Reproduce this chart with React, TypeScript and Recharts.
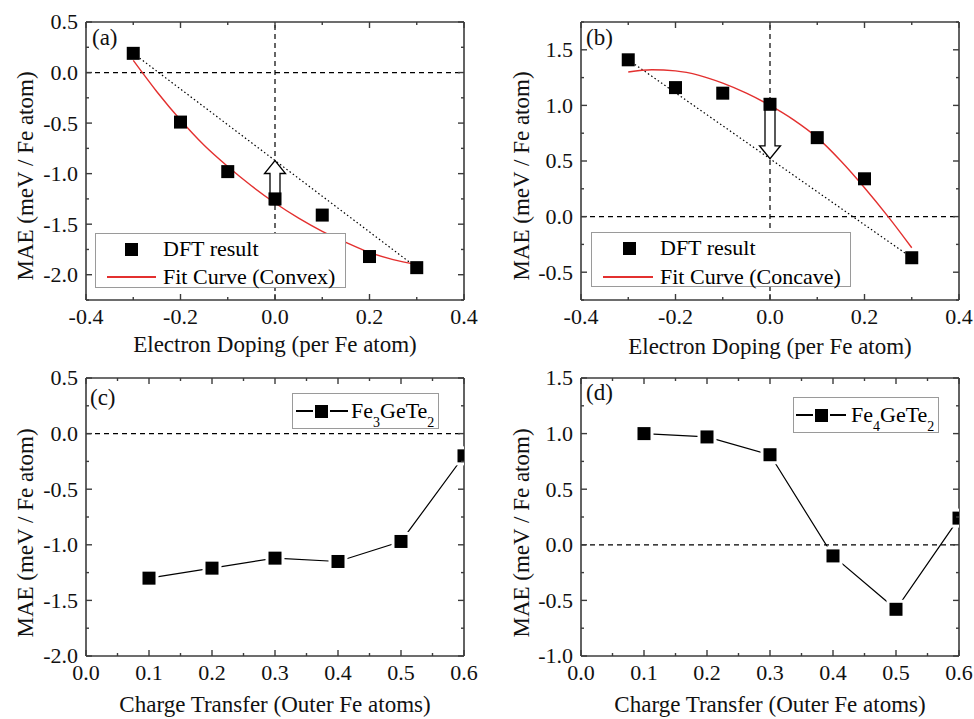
import React from 'react';
import { ComposedChart, Line, Scatter, XAxis, YAxis, ReferenceLine, Legend } from 'recharts';

// (a), (b) electron doping
const dopingX = [-0.3, -0.2, -0.1, 0, 0.1, 0.2, 0.3];
const dftA = [0.19, -0.49, -0.98, -1.25, -1.41, -1.82, -1.93];
const dftB = [1.41, 1.16, 1.11, 1.01, 0.71, 0.34, -0.37];
const fitX = [-0.3, -0.25, -0.2, -0.15, -0.1, -0.05, 0, 0.05, 0.1, 0.15, 0.2, 0.25, 0.3];
const fitA = [0.12, -0.19, -0.47, -0.72, -0.93, -1.12, -1.29, -1.44, -1.57, -1.68, -1.78, -1.85, -1.9];
const fitB = [1.3, 1.32, 1.31, 1.27, 1.2, 1.11, 1.0, 0.87, 0.71, 0.5, 0.26, 0.0, -0.28];
const arrowA = [-1.31, -0.87];
const arrowB = [1.01, 0.52];

// (c), (d) charge transfer
const transferX = [0.1, 0.2, 0.3, 0.4, 0.5, 0.6];
const fe3 = [-1.3, -1.21, -1.12, -1.15, -0.97, -0.2];
const fe4 = [1.0, 0.97, 0.81, -0.1, -0.58, 0.24];

// ticks (majors get labels)
const dopingTicks = [-0.4, -0.3, -0.2, -0.1, 0, 0.1, 0.2, 0.3, 0.4];
const transferTicks = [0, 0.05, 0.1, 0.15, 0.2, 0.25, 0.3, 0.35, 0.4, 0.45, 0.5, 0.55, 0.6];
const yTicksA = [-2.25, -2, -1.75, -1.5, -1.25, -1, -0.75, -0.5, -0.25, 0, 0.25, 0.5];
const yTicksB = [-0.75, -0.5, -0.25, 0, 0.25, 0.5, 0.75, 1, 1.25, 1.5, 1.75];
const yTicksC = [-2, -1.75, -1.5, -1.25, -1, -0.75, -0.5, -0.25, 0, 0.25, 0.5];
const yTicksD = [-1, -0.75, -0.5, -0.25, 0, 0.25, 0.5, 0.75, 1, 1.25, 1.5];

const FONT = 'Liberation Serif, Tinos, Times New Roman, DejaVu Serif, serif';
const AX = '#3c3c3c';
const RED = '#e3302f';

const isMajor = (v: number, step: number) => Math.abs(v / step - Math.round(v / step)) < 1e-6;
const fmt = (v: number) => (Math.abs(v) < 1e-9 ? 0 : v).toFixed(1);
const pts = (xs: number[], ys: number[]) => xs.map((x, i) => ({ x, y: ys[i] }));

const Square = (p: any) => <rect x={p.cx - 6.5} y={p.cy - 6.5} width={13} height={13} fill="#000" />;
const GapSquare = (p: any) => (
  <g key={`d${p.index}`}>
    <rect x={p.cx - 9.5} y={p.cy - 9.5} width={19} height={19} fill="#fff" />
    <rect x={p.cx - 6.5} y={p.cy - 6.5} width={13} height={13} fill="#000" />
  </g>
);

const hollowArrow = (p: any) => {
  const { x1, y1, x2, y2 } = p;
  if (x1 == null || y1 == null) return null;
  const dir = y2 < y1 ? -1 : 1;
  const head = 13, bw = 5, hw = 10.5;
  const yb = y2 - dir * head;
  return (
    <path
      d={`M${x1 - bw},${y1}L${x1 - bw},${yb}L${x1 - hw},${yb}L${x2},${y2}L${x1 + hw},${yb}L${x1 + bw},${yb}L${x1 + bw},${y1}Z`}
      fill="#fff"
      stroke="#000"
      strokeWidth={1.3}
    />
  );
};

const fitLegend = (label: string, c: any) => () => (
  <div style={{ position: 'relative', width: c.w, height: c.h, boxSizing: 'border-box', border: '1px solid #9a9a9a', background: '#fff', fontFamily: FONT, fontSize: 22, color: '#000' }}>
    <div style={{ position: 'absolute', left: c.mark - 6.5, top: c.r1 - 6.5, width: 13, height: 13, background: '#000' }} />
    <div style={{ position: 'absolute', left: c.text, top: c.r1 - 14, lineHeight: '28px', whiteSpace: 'nowrap' }}>DFT result</div>
    <div style={{ position: 'absolute', left: c.l1, top: c.r2 - 0.75, width: c.l2 - c.l1, height: 1.5, background: RED }} />
    <div style={{ position: 'absolute', left: c.text, top: c.r2 - 14, lineHeight: '28px', whiteSpace: 'nowrap' }}>{label}</div>
  </div>
);

const compLegend = (n: string, c: any) => () => (
  <div style={{ position: 'relative', width: c.w, height: c.h, boxSizing: 'border-box', border: '1px solid #9a9a9a', background: '#fff', fontFamily: FONT, fontSize: 22, color: '#000' }}>
    <div style={{ position: 'absolute', left: c.l1, top: c.r - 0.6, width: c.l2 - c.l1, height: 1.2, background: '#000' }} />
    <div style={{ position: 'absolute', left: c.mark - 6.5, top: c.r - 6.5, width: 13, height: 13, background: '#000', boxShadow: '0 0 0 2px #fff' }} />
    <div style={{ position: 'absolute', left: c.text, top: c.r - 14, lineHeight: '28px', whiteSpace: 'nowrap' }}>
      Fe<span style={{ fontSize: 14, verticalAlign: '-9px', lineHeight: 0 }}>{n}</span>GeTe
      <span style={{ fontSize: 14, verticalAlign: '-9px', lineHeight: 0 }}>2</span>
    </div>
  </div>
);

function Panel(props: any) {
  const { left, top, width, height, margin, leftW, bottomH, xDomain, xTicks, xStep, yDomain, yTicks, yStep, xTitle, xTitleY, yTitleX, yTitleDy, tag, tagX, tagY, legend, legendPos, children } = props;
  const M = 24, YM = 8, MAJ = 6, MIN = 3;
  const textStyle = { fontFamily: FONT, fontSize: 22, fill: '#111' };

  const bottomTick = (p: any) => {
    const v = p.payload.value, major = isMajor(v, xStep), base = p.y - M;
    return (
      <g>
        <line x1={p.x} x2={p.x} y1={base} y2={base - (major ? MAJ : MIN)} stroke={AX} strokeWidth={1.4} />
        {major && <text x={p.x} y={p.y} textAnchor="middle" {...textStyle}>{fmt(v)}</text>}
      </g>
    );
  };
  const topTick = (p: any) => {
    const major = isMajor(p.payload.value, xStep);
    return <line x1={p.x} x2={p.x} y1={p.y} y2={p.y + (major ? MAJ : MIN)} stroke={AX} strokeWidth={1.4} />;
  };
  const leftTick = (p: any) => {
    const v = p.payload.value, major = isMajor(v, yStep), base = p.x + YM;
    return (
      <g>
        <line x1={base} x2={base + (major ? MAJ : MIN)} y1={p.y} y2={p.y} stroke={AX} strokeWidth={1.4} />
        {major && <text x={p.x} y={p.y} dy="0.34em" textAnchor="end" {...textStyle}>{fmt(v)}</text>}
      </g>
    );
  };
  const rightTick = (p: any) => {
    const major = isMajor(p.payload.value, yStep);
    return <line x1={p.x} x2={p.x - (major ? MAJ : MIN)} y1={p.y} y2={p.y} stroke={AX} strokeWidth={1.4} />;
  };
  const axisLine = { stroke: AX, strokeWidth: 1.6 };

  return (
    <div style={{ position: 'absolute', left, top, width, height }}>
      <ComposedChart width={width} height={height} margin={margin}>
        <XAxis xAxisId="b" type="number" dataKey="x" domain={xDomain} ticks={xTicks} interval={0} allowDataOverflow
          height={bottomH} tickSize={0} tickLine={false} tickMargin={M} tick={bottomTick} axisLine={axisLine}
          label={{ content: (lp: any) => { const vb = lp.viewBox; return <text x={vb.x + vb.width / 2} y={vb.y + xTitleY} textAnchor="middle" fontFamily={FONT} fontSize={23} fill="#111">{xTitle}</text>; } }} />
        <XAxis xAxisId="t" orientation="top" type="number" dataKey="x" domain={xDomain} ticks={xTicks} interval={0} allowDataOverflow
          height={1} tickSize={0} tickLine={false} tickMargin={0} tick={topTick} axisLine={axisLine} />
        <YAxis yAxisId="l" type="number" dataKey="y" domain={yDomain} ticks={yTicks} interval={0} allowDataOverflow
          width={leftW} tickSize={0} tickLine={false} tickMargin={YM} tick={leftTick} axisLine={axisLine}
          label={{ content: (lp: any) => { const vb = lp.viewBox; const cy = vb.y + vb.height / 2 + yTitleDy; return <text x={yTitleX} y={cy} transform={`rotate(-90, ${yTitleX}, ${cy})`} textAnchor="middle" fontFamily={FONT} fontSize={23} fill="#111">MAE (meV / Fe atom)</text>; } }} />
        <YAxis yAxisId="r" orientation="right" type="number" dataKey="y" domain={yDomain} ticks={yTicks} interval={0} allowDataOverflow
          width={1} tickSize={0} tickLine={false} tickMargin={0} tick={rightTick} axisLine={axisLine} />
        {children}
        <Legend layout="vertical" align="center" verticalAlign="middle" content={legend}
          wrapperStyle={{ left: legendPos[0], top: legendPos[1], width: 'auto', height: 'auto' }} />
      </ComposedChart>
      <svg width={width} height={height} style={{ position: 'absolute', left: 0, top: 0, pointerEvents: 'none' }}>
        <text x={tagX} y={tagY} fontFamily={FONT} fontSize={23} fill="#111">{tag}</text>
      </svg>
    </div>
  );
}

const ids = { xAxisId: 'b', yAxisId: 'l' };
const zeroLine = { stroke: '#000', strokeWidth: 1.2, strokeDasharray: '5 4' };

export default function App() {
  return (
    <div style={{ position: 'absolute', left: 0, top: 0, width: 974, height: 719, background: '#fff', overflow: 'hidden', fontFamily: FONT }}>
      <Panel left={0} top={0} width={487} height={360} margin={{ top: 21, right: 22, bottom: 0, left: 0 }} leftW={86} bottomH={60}
        xDomain={[-0.4, 0.4]} xTicks={dopingTicks} xStep={0.2} yDomain={[-2.25, 0.5]} yTicks={yTicksA} yStep={0.5}
        xTitle="Electron Doping (per Fe atom)" xTitleY={52} yTitleX={33} yTitleDy={15} tag="(a)" tagX={92} tagY={45}
        legend={fitLegend('Fit Curve (Convex)', { w: 251, h: 55, mark: 35, text: 67, l1: 11, l2: 60, r1: 15, r2: 43 })} legendPos={[95, 233]}>
        {[
          <ReferenceLine key="h0" {...ids} y={0} {...zeroLine} />,
          <ReferenceLine key="v0" {...ids} x={0} {...zeroLine} />,
          <Line key="chord" {...ids} data={pts([dopingX[0], dopingX[6]], [dftA[0], dftA[6]])} dataKey="y" stroke="#000" strokeWidth={1.2} strokeDasharray="1.5 2.5" dot={false} isAnimationActive={false} legendType="none" />,
          <Line key="fit" {...ids} data={pts(fitX, fitA)} dataKey="y" type="monotone" stroke={RED} strokeWidth={1.4} dot={false} isAnimationActive={false} />,
          <ReferenceLine key="arrow" {...ids} segment={[{ x: 0, y: arrowA[0] }, { x: 0, y: arrowA[1] }]} shape={hollowArrow} />,
          <Scatter key="dft" {...ids} data={pts(dopingX, dftA)} dataKey="y" shape={Square} isAnimationActive={false} />,
        ]}
      </Panel>
      <Panel left={484} top={0} width={490} height={360} margin={{ top: 21, right: 14, bottom: 0, left: 0 }} leftW={97} bottomH={60}
        xDomain={[-0.4, 0.4]} xTicks={dopingTicks} xStep={0.2} yDomain={[-0.75, 1.75]} yTicks={yTicksB} yStep={0.5}
        xTitle="Electron Doping (per Fe atom)" xTitleY={54} yTitleX={45} yTitleDy={15} tag="(b)" tagX={102} tagY={45}
        legend={fitLegend('Fit Curve (Concave)', { w: 260, h: 55, mark: 37, text: 68, l1: 11, l2: 61, r1: 15, r2: 44 })} legendPos={[107, 232]}>
        {[
          <ReferenceLine key="h0" {...ids} y={0} {...zeroLine} />,
          <ReferenceLine key="v0" {...ids} x={0} {...zeroLine} />,
          <Line key="chord" {...ids} data={pts([dopingX[0], dopingX[6]], [dftB[0], dftB[6]])} dataKey="y" stroke="#000" strokeWidth={1.2} strokeDasharray="1.5 2.5" dot={false} isAnimationActive={false} legendType="none" />,
          <Line key="fit" {...ids} data={pts(fitX, fitB)} dataKey="y" type="monotone" stroke={RED} strokeWidth={1.4} dot={false} isAnimationActive={false} />,
          <ReferenceLine key="arrow" {...ids} segment={[{ x: 0, y: arrowB[0] }, { x: 0, y: arrowB[1] }]} shape={hollowArrow} />,
          <Scatter key="dft" {...ids} data={pts(dopingX, dftB)} dataKey="y" shape={Square} isAnimationActive={false} />,
        ]}
      </Panel>
      <Panel left={0} top={360} width={487} height={359} margin={{ top: 17, right: 22, bottom: 0, left: 0 }} leftW={86} bottomH={63}
        xDomain={[0, 0.6]} xTicks={transferTicks} xStep={0.1} yDomain={[-2, 0.5]} yTicks={yTicksC} yStep={0.5}
        xTitle="Charge Transfer (Outer Fe atoms)" xTitleY={56} yTitleX={33} yTitleDy={16} tag="(c)" tagX={90} tagY={45}
        legend={compLegend('3', { w: 147, h: 36, l1: 3, l2: 55, mark: 28, text: 58, r: 17 })} legendPos={[292, 33]}>
        {[
          <ReferenceLine key="h0" {...ids} y={0} {...zeroLine} />,
          <Line key="fe3" {...ids} data={pts(transferX, fe3)} dataKey="y" stroke="#000" strokeWidth={1.2} dot={GapSquare} isAnimationActive={false} />,
        ]}
      </Panel>
      <Panel left={484} top={360} width={490} height={359} margin={{ top: 17, right: 14, bottom: 0, left: 0 }} leftW={97} bottomH={63}
        xDomain={[0, 0.6]} xTicks={transferTicks} xStep={0.1} yDomain={[-1, 1.5]} yTicks={yTicksD} yStep={0.5}
        xTitle="Charge Transfer (Outer Fe atoms)" xTitleY={56} yTitleX={45} yTitleDy={16} tag="(d)" tagX={102} tagY={40}
        legend={compLegend('4', { w: 146, h: 36, l1: 2, l2: 52, mark: 27, text: 57, r: 17 })} legendPos={[309, 37]}>
        {[
          <ReferenceLine key="h0" {...ids} y={0} {...zeroLine} />,
          <Line key="fe4" {...ids} data={pts(transferX, fe4)} dataKey="y" stroke="#000" strokeWidth={1.2} dot={GapSquare} isAnimationActive={false} />,
        ]}
      </Panel>
    </div>
  );
}
